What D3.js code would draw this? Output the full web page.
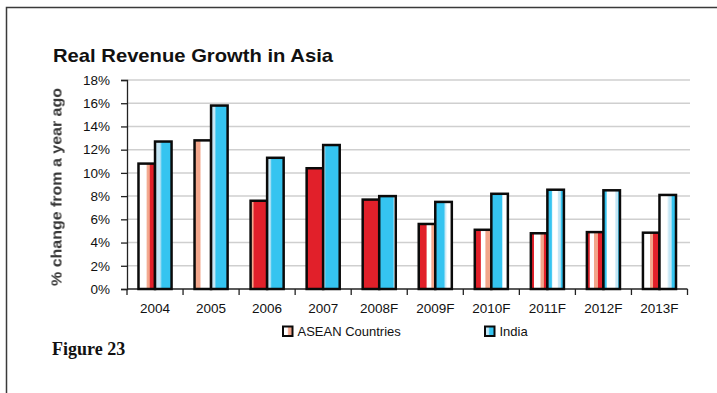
<!DOCTYPE html>
<html>
<head>
<meta charset="utf-8">
<script src="https://cdn.jsdelivr.net/npm/d3@7"></script>
<style>
  html, body { margin: 0; padding: 0; background: #fff; }
  svg { display: block; }
</style>
</head>
<body>
<svg id="chart" width="717" height="393"></svg>
<script>
// Categories and series (percent change from a year ago)
const years = ["2004", "2005", "2006", "2007", "2008F", "2009F", "2010F", "2011F", "2012F", "2013F"];
const aseanValues = [10.8, 12.8, 7.6, 10.4, 7.7, 5.6, 5.1, 4.8, 4.9, 4.85];
const indiaValues = [12.7, 15.8, 11.3, 12.4, 8.0, 7.5, 8.2, 8.55, 8.5, 8.1];
const seriesNames = ["ASEAN Countries", "India"];
const yTickValues = [0, 2, 4, 6, 8, 10, 12, 14, 16, 18];

// Colours
const RED = "#e1202a", SALMON = "#f2a68b", WHITE = "#ffffff";
const BLUE = "#35c4f0", LIGHT = "#c4e7f6";

// Stripe layout of each bar's horizontal gradient fill: [offset, colour]
const aseanBands = [
  [[0, WHITE], [0.45, WHITE], [0.55, SALMON], [0.65, SALMON], [0.72, RED], [1, RED]],
  [[0, SALMON], [0.3, SALMON], [0.42, WHITE], [1, WHITE]],
  [[0, SALMON], [0.14, SALMON], [0.22, RED], [1, RED]],
  [[0, RED], [1, RED]],
  [[0, RED], [1, RED]],
  [[0, RED], [0.45, RED], [0.5, WHITE], [0.72, WHITE], [0.8, SALMON], [1, SALMON]],
  [[0, RED], [0.34, RED], [0.38, WHITE], [0.6, WHITE], [0.68, SALMON], [0.92, SALMON], [1, RED]],
  [[0, RED], [0.18, RED], [0.22, WHITE], [0.55, WHITE], [0.62, SALMON], [0.76, SALMON], [0.82, RED], [1, RED]],
  [[0, RED], [0.15, RED], [0.19, WHITE], [0.4, WHITE], [0.45, SALMON], [0.64, SALMON], [0.7, RED], [1, RED]],
  [[0, WHITE], [0.4, WHITE], [0.46, SALMON], [0.58, SALMON], [0.64, RED], [1, RED]]
];
const indiaBands = [
  [[0, WHITE], [0.1, LIGHT], [0.3, LIGHT], [0.42, BLUE], [1, BLUE]],
  [[0, LIGHT], [0.22, LIGHT], [0.3, BLUE], [1, BLUE]],
  [[0, LIGHT], [0.18, LIGHT], [0.28, BLUE], [1, BLUE]],
  [[0, LIGHT], [0.08, LIGHT], [0.16, BLUE], [1, BLUE]],
  [[0, BLUE], [0.84, BLUE], [0.92, WHITE], [1, WHITE]],
  [[0, BLUE], [0.52, BLUE], [0.6, LIGHT], [0.72, WHITE], [1, WHITE]],
  [[0, BLUE], [0.62, BLUE], [0.7, WHITE], [1, WHITE]],
  [[0, BLUE], [0.24, BLUE], [0.32, WHITE], [0.6, WHITE], [0.68, LIGHT], [0.78, LIGHT], [0.85, BLUE], [1, BLUE]],
  [[0, BLUE], [0.16, BLUE], [0.24, WHITE], [0.68, WHITE], [0.76, LIGHT], [0.86, LIGHT], [0.92, BLUE], [1, BLUE]],
  [[0, WHITE], [0.45, WHITE], [0.58, LIGHT], [0.7, LIGHT], [0.78, BLUE], [1, BLUE]]
];

const svg = d3.select("#chart");
const defs = svg.append("defs");

// Soft blur for the rotated axis caption
defs.append("filter").attr("id", "soft")
  .attr("x", "-20%").attr("y", "-20%").attr("width", "140%").attr("height", "140%")
  .append("feGaussianBlur").attr("stdDeviation", 0.7);

function addGradient(id, stops) {
  const g = defs.append("linearGradient").attr("id", id)
    .attr("x1", 0).attr("x2", 1).attr("y1", 0).attr("y2", 0);
  stops.forEach(([o, c]) => g.append("stop").attr("offset", o).attr("stop-color", c));
}
aseanBands.forEach((b, i) => addGradient("ga" + i, b));
indiaBands.forEach((b, i) => addGradient("gi" + i, b));
addGradient("legA", [[0, WHITE], [0.45, WHITE], [0.6, SALMON], [1, SALMON]]);
addGradient("legI", [[0, LIGHT], [0.35, LIGHT], [0.5, BLUE], [1, BLUE]]);

// Page frame
svg.append("path")
  .attr("d", "M6.5,393 V7.5 H717")
  .attr("fill", "none").attr("stroke", "#3a3a3a").attr("stroke-width", 1.5);

// Title
svg.append("text")
  .attr("x", 53).attr("y", 62)
  .attr("font-family", "Liberation Sans, Arial, sans-serif")
  .attr("font-weight", "bold").attr("font-size", 19)
  .attr("textLength", 280).attr("lengthAdjust", "spacingAndGlyphs")
  .attr("fill", "#111")
  .text("Real Revenue Growth in Asia");

// Scales
const plot = { left: 127, right: 687.5, top: 80, bottom: 289 };
const x = d3.scaleBand().domain(years)
  .range([plot.left, plot.right]).paddingInner(0.41).paddingOuter(0.205);
const xs = d3.scaleBand().domain(seriesNames).range([0, x.bandwidth()]);
const y = d3.scaleLinear().domain([0, 18]).range([plot.bottom, plot.top]);

// Gridlines
svg.append("g").selectAll("line")
  .data(yTickValues.filter(v => v > 0))
  .join("line")
  .attr("x1", plot.left).attr("x2", 690)
  .attr("y1", d => y(d)).attr("y2", d => y(d))
  .attr("stroke", "#cfcfcf").attr("stroke-width", 1.5);

// Y axis
const yAxis = svg.append("g")
  .attr("transform", `translate(${plot.left},0)`)
  .call(d3.axisLeft(y).tickValues(yTickValues).tickFormat(d => d + "%").tickSize(6).tickPadding(11));
yAxis.select(".domain").attr("stroke", "#222").attr("stroke-width", 1.3);
yAxis.selectAll(".tick line").attr("stroke", "#222").attr("stroke-width", 1.3);
yAxis.selectAll(".tick text")
  .attr("font-family", "Liberation Sans, Arial, sans-serif")
  .attr("font-size", 13.5).attr("fill", "#111");

// X axis with ticks on category boundaries
const boundaries = years.map((d, i) => plot.left + i * x.step()).concat([plot.left + years.length * x.step()]);
const xAxisG = svg.append("g");
xAxisG.append("line")
  .attr("x1", plot.left).attr("x2", plot.right)
  .attr("y1", plot.bottom).attr("y2", plot.bottom)
  .attr("stroke", "#222").attr("stroke-width", 1.3);
xAxisG.selectAll("line.tk").data(boundaries).join("line").attr("class", "tk")
  .attr("x1", d => d).attr("x2", d => d)
  .attr("y1", plot.bottom).attr("y2", plot.bottom + 6)
  .attr("stroke", "#222").attr("stroke-width", 1.3);
xAxisG.selectAll("text").data(years).join("text")
  .attr("x", d => x(d) + x.bandwidth() / 2)
  .attr("y", 313)
  .attr("text-anchor", "middle")
  .attr("font-family", "Liberation Sans, Arial, sans-serif")
  .attr("font-size", 13.5).attr("fill", "#111")
  .text(d => d);

// Bars
const groups = svg.append("g").selectAll("g")
  .data(years.map((yr, i) => ({ yr, i, vals: [aseanValues[i], indiaValues[i]] })))
  .join("g")
  .attr("transform", d => `translate(${x(d.yr)},0)`);

groups.selectAll("rect")
  .data(d => d.vals.map((v, k) => ({ v, k, i: d.i })))
  .join("rect")
  .attr("x", d => xs(seriesNames[d.k]))
  .attr("width", xs.bandwidth())
  .attr("y", d => y(d.v))
  .attr("height", d => y(0) - y(d.v))
  .attr("fill", d => `url(#${d.k === 0 ? "ga" : "gi"}${d.i})`)
  .attr("stroke", "#0a0a0a").attr("stroke-width", 2.5);

// Y axis caption
svg.append("text")
  .attr("transform", "translate(61.5,187) rotate(-90)")
  .attr("text-anchor", "middle")
  .attr("font-family", "Liberation Sans, Arial, sans-serif")
  .attr("font-weight", "bold").attr("font-size", 14)
  .attr("textLength", 198).attr("lengthAdjust", "spacingAndGlyphs")
  .attr("fill", "#383838").attr("filter", "url(#soft)")
  .text("% change from a year ago");

// Legend
const legend = svg.append("g");
const legendItems = [
  { name: seriesNames[0], fill: "url(#legA)", x: 283 },
  { name: seriesNames[1], fill: "url(#legI)", x: 485 }
];
legendItems.forEach(it => {
  legend.append("rect")
    .attr("x", it.x).attr("y", 326.5).attr("width", 9.5).attr("height", 9.5)
    .attr("fill", it.fill).attr("stroke", "#0a0a0a").attr("stroke-width", 2);
  legend.append("text")
    .attr("x", it.x + 14.5).attr("y", 336)
    .attr("font-family", "Liberation Sans, Arial, sans-serif")
    .attr("font-size", 13).attr("fill", "#111")
    .text(it.name);
});

// Figure label
svg.append("text")
  .attr("x", 52).attr("y", 355)
  .attr("font-family", "Liberation Serif, Times New Roman, serif")
  .attr("font-weight", "bold").attr("font-size", 18)
  .attr("fill", "#111")
  .text("Figure 23");
</script>
</body>
</html>
